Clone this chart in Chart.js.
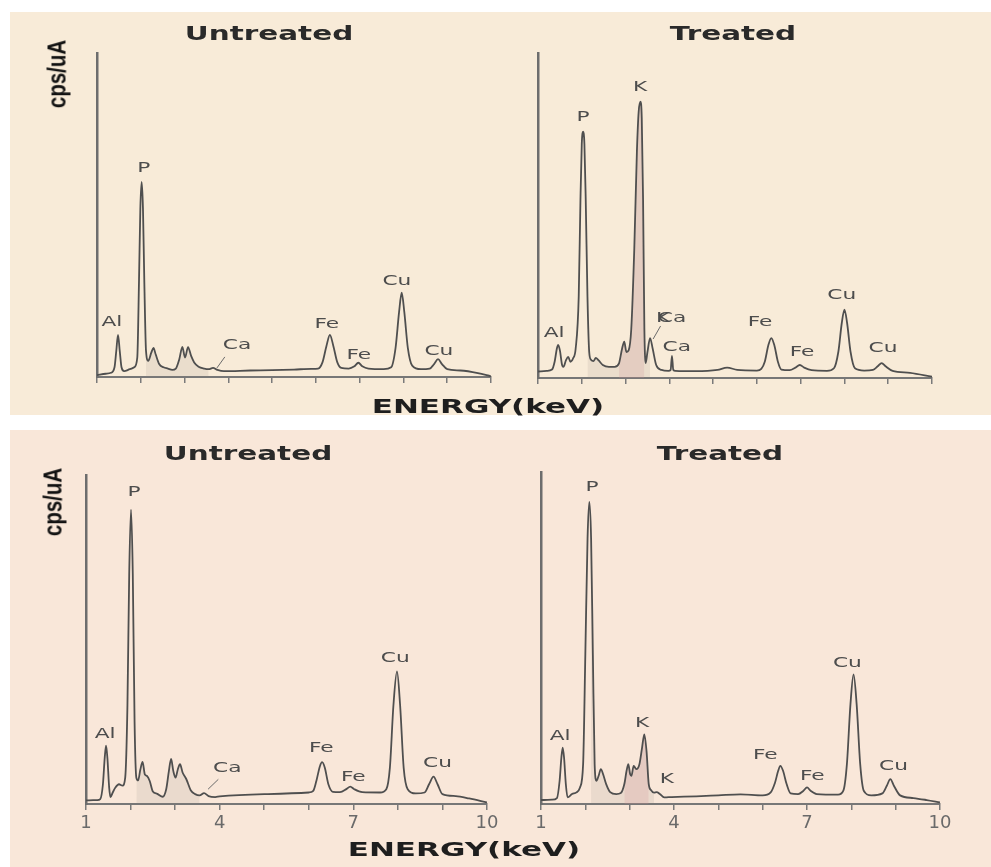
<!DOCTYPE html>
<html>
<head>
<meta charset="utf-8">
<title>EDS spectra – untreated vs treated</title>
<script src="https://cdn.jsdelivr.net/npm/chart.js@4.4.1/dist/chart.umd.min.js"></script>
<style>
  html, body { margin: 0; padding: 0; background: #ffffff; }
  body { width: 991px; height: 867px; position: relative; overflow: hidden; font-family: "DejaVu Sans", sans-serif; }
  .band { position: absolute; }
  canvas { position: absolute; }
  .t { position: absolute; white-space: nowrap; line-height: 1; font-weight: bold; color: #2a2a2a;
       transform: translate(-50%, -50%) scaleX(1.55); }
  .cps { position: absolute; white-space: nowrap; line-height: 1; font-family: "Liberation Sans", Arial, sans-serif;
         font-weight: bold; font-size: 25px; color: #111;
         transform: translate(-50%, -50%) rotate(-90deg) scaleX(0.82); }
</style>
</head>
<body>
<div class="band" style="left:10px;top:12px;width:981px;height:403px;background:#f8ebd8;"></div>
<div class="band" style="left:10px;top:430px;width:981px;height:437px;background:#f9e7d9;"></div>

<canvas id="c1"></canvas>
<canvas id="c2"></canvas>
<canvas id="c3"></canvas>
<canvas id="c4"></canvas>

<div class="t" style="left:269px;top:33px;font-size:19px;">Untreated</div>
<div class="t" style="left:733px;top:33px;font-size:19px;">Treated</div>
<div class="t" style="left:248px;top:453px;font-size:19px;">Untreated</div>
<div class="t" style="left:720px;top:453px;font-size:19px;">Treated</div>
<div class="t" style="left:488px;top:406px;font-size:20px;color:#1e1e1e;">ENERGY(keV)</div>
<div class="t" style="left:464px;top:849px;font-size:20px;color:#1e1e1e;">ENERGY(keV)</div>
<div class="cps" style="left:57px;top:74px;">cps/uA</div>
<div class="cps" style="left:53px;top:502px;">cps/uA</div>

<script>
// ---- Spectrum 1: untreated (upper pair) ----
const ENERGY_UNTREATED_1 = [1.00,1.20,1.32,1.40,1.44,1.48,1.52,1.56,1.62,1.75,1.85,1.92,1.96,1.99,2.02,2.05,2.08,2.12,2.17,2.24,2.29,2.34,2.42,2.52,2.62,2.72,2.80,2.88,2.95,3.01,3.08,3.15,3.22,3.32,3.45,3.55,3.65,3.75,3.90,4.50,5.00,5.50,5.90,6.05,6.15,6.24,6.32,6.40,6.49,6.58,6.75,6.88,6.97,7.06,7.20,7.55,7.72,7.82,7.90,7.96,8.02,8.10,8.20,8.40,8.60,8.70,8.79,8.88,9.00,9.30,9.70,10.00];
const CPS_UNTREATED_1    = [0.6,1.0,1.3,3.0,8.0,13.0,8.0,3.0,1.8,2.4,3.0,6.0,30,52,60.2,52,30,8,5,7.5,9.0,7,4,3,2.6,2.2,2.6,5.5,9.3,6.0,9.2,6.5,4.5,3.2,2.6,2.4,2.8,2.2,1.8,2.0,2.1,2.3,2.5,2.6,4.5,9.5,13.0,9.5,4.5,2.8,2.6,3.3,4.4,3.3,2.6,2.4,3.0,9.0,20.0,26.0,20.0,9.0,3.5,2.4,2.6,4.0,5.5,4.0,2.4,2.0,1.2,0.2];

// ---- Spectrum 2: treated (upper pair) ----
const ENERGY_TREATED_1 = [1.00,1.20,1.32,1.38,1.43,1.46,1.50,1.55,1.58,1.64,1.69,1.74,1.80,1.86,1.93,1.97,2.00,2.03,2.06,2.09,2.13,2.17,2.21,2.27,2.32,2.38,2.48,2.62,2.75,2.85,2.92,2.97,3.02,3.07,3.13,3.20,3.26,3.30,3.34,3.37,3.40,3.43,3.46,3.50,3.56,3.62,3.70,3.82,3.98,4.03,4.06,4.09,4.14,4.60,5.10,5.32,5.55,6.00,6.10,6.18,6.26,6.33,6.40,6.48,6.56,6.75,6.88,6.98,7.08,7.25,7.60,7.76,7.86,7.94,8.00,8.06,8.14,8.24,8.45,8.65,8.76,8.85,8.94,9.10,9.50,10.00];
const CPS_TREATED_1    = [2.0,2.2,2.6,5,9,10.2,8.5,4,3.4,5.5,6.5,5.0,6.0,9,25,55,72,75.8,72,55,25,8,5.6,5.2,6.2,5.5,4.0,3.4,3.4,4.5,9,11.2,8.0,8.5,15,40,70,82,85,80,55,15,4.6,8,12.3,9,4,2.5,2.2,2.5,6.8,2.5,2.2,2.1,2.5,3.2,2.5,2.3,2.8,5,10,12.3,10,5,2.6,2.4,3.2,4.0,3.2,2.4,2.2,3,8,17,21,17,8,3,2.3,2.5,3.6,4.6,3.6,2.2,1.6,0.4];

// ---- Spectrum 3: untreated (lower pair) ----
const ENERGY_UNTREATED_2 = [1.00,1.25,1.32,1.38,1.42,1.45,1.48,1.52,1.55,1.60,1.66,1.74,1.82,1.88,1.93,1.97,2.01,2.05,2.09,2.13,2.17,2.22,2.27,2.32,2.37,2.43,2.50,2.60,2.72,2.80,2.86,2.91,2.96,3.01,3.06,3.11,3.17,3.25,3.35,3.45,3.55,3.65,3.75,3.90,4.00,5.00,6.00,6.10,6.17,6.25,6.30,6.36,6.44,6.54,6.70,6.85,6.93,7.02,7.20,7.60,7.74,7.82,7.90,7.98,8.05,8.13,8.22,8.40,8.60,8.70,8.80,8.89,9.00,9.30,9.60,10.00];
const CPS_UNTREATED_2    = [1.1,1.2,1.5,6,14,17.7,14,5,2.1,3.5,5.0,6.0,5.6,8,30,70,89.5,70,25,8,7.2,10.5,12.8,9,8.5,7,3.8,3.1,2.2,4.5,10,13.7,10,8.0,10.5,12.1,9.5,7.6,4.2,3.0,2.6,3.3,2.4,2.1,2.3,3.0,3.5,4,7,11.5,12.7,11,6,3.7,3.6,4.6,5.3,4.5,3.6,3.5,4.5,11,30,40.3,30,11,4.5,3.2,3.5,6,8.3,6,3.0,2.4,1.7,0.5];

// ---- Spectrum 4: treated (lower pair) ----
const ENERGY_TREATED_2 = [1.00,1.25,1.36,1.42,1.46,1.49,1.52,1.56,1.60,1.70,1.80,1.88,1.95,2.00,2.05,2.09,2.13,2.17,2.21,2.25,2.30,2.35,2.40,2.47,2.56,2.70,2.80,2.88,2.93,2.97,3.01,3.04,3.09,3.15,3.22,3.28,3.33,3.38,3.43,3.48,3.55,3.61,3.68,3.78,3.95,4.50,5.00,5.50,6.00,6.18,6.28,6.35,6.40,6.46,6.54,6.63,6.80,6.92,7.00,7.08,7.22,7.70,7.82,7.90,7.98,8.05,8.12,8.20,8.28,8.45,8.70,8.80,8.88,8.96,9.10,9.40,9.70,10.00];
const CPS_TREATED_2    = [1.2,1.3,1.8,7,14,17,14,6,2.0,3.0,3.5,5,12,45,80,91,80,45,12,7,8.5,10.5,9,6,3.6,3.0,3.3,6,10,12,9,8.5,11.5,10.5,12,17,21,16,6,4.2,3.4,3.6,3.0,2.0,2.1,2.3,2.6,2.9,2.6,3.5,6.5,10,11.5,10,6,3.2,3.0,4.0,5.0,4.0,3.0,2.8,4,12,30,39,30,12,4,2.6,3.2,5.5,7.5,5.5,2.6,1.8,1.2,0.5];

// ---- Axis ticks (keV) ----
const X_TICK_LABELS = [1, 4, 7, 10];

// ---- Element labels: name, energy (keV), height (cps/uA) of the label anchor ----
const PEAKS_UNTREATED_1 = [
  ['Al', 1.34, 17.0], ['P', 2.07, 64.5], ['Ca', 4.20, 9.9], ['Fe', 6.25, 16.4],
  ['Fe', 6.98, 6.8], ['Cu', 7.85, 29.6], ['Cu', 8.81, 8.0]
];
const PEAKS_TREATED_1 = [
  ['Al', 1.37, 13.8], ['P', 2.03, 80.3], ['K', 3.33, 89.5], ['K', 3.86, 18.5], ['Ca', 4.06, 18.5],
  ['Ca', 4.17, 9.5], ['Fe', 6.07, 17.2], ['Fe', 7.03, 8.0], ['Cu', 7.94, 25.5], ['Cu', 8.88, 9.2]
];
const PEAKS_UNTREATED_2 = [
  ['Al', 1.43, 21.1], ['P', 2.08, 94.6], ['Ca', 4.17, 10.8], ['Fe', 6.28, 16.9],
  ['Fe', 7.00, 8.1], ['Cu', 7.94, 44.3], ['Cu', 8.89, 12.3]
];
const PEAKS_TREATED_2 = [
  ['Al', 1.43, 20.3], ['P', 2.15, 95.5], ['K', 3.28, 24.2], ['K', 3.84, 7.5],
  ['Fe', 6.06, 14.6], ['Fe', 7.12, 8.4], ['Cu', 7.91, 42.4], ['Cu', 8.95, 11.3]
];

// leader lines from a label down to its peak: [keV, cps] -> [keV, cps]
const LEADERS_UNTREATED_1 = [[[3.92, 6.2], [3.74, 2.8]]];
const LEADERS_TREATED_1   = [[[3.80, 16.0], [3.63, 12.0]]];
const LEADERS_UNTREATED_2 = [[[3.97, 7.5], [3.74, 4.5]]];
const LEADERS_TREATED_2   = [];

// ---- drawing ----
const peakLabelPlugin = {
  id: 'peakLabels',
  afterDatasetsDraw(chart, args, opts) {
    const ctx = chart.ctx, xs = chart.scales.x, ys = chart.scales.y;
    ctx.save();
    ctx.strokeStyle = '#6a6a6a';
    ctx.lineWidth = 1;
    (opts.leaders || []).forEach(([a, b]) => {
      ctx.beginPath();
      ctx.moveTo(xs.getPixelForValue(a[0]), ys.getPixelForValue(a[1]));
      ctx.lineTo(xs.getPixelForValue(b[0]), ys.getPixelForValue(b[1]));
      ctx.stroke();
    });
    ctx.font = '14px "DejaVu Sans", sans-serif';
    ctx.fillStyle = '#4d4d4d';
    ctx.textAlign = 'center';
    ctx.textBaseline = 'middle';
    (opts.items || []).forEach(([name, e, v]) => {
      ctx.save();
      ctx.translate(xs.getPixelForValue(e), ys.getPixelForValue(v));
      ctx.scale(1.55, 1);
      ctx.fillText(name, 0, 0);
      ctx.restore();
    });
    ctx.restore();
  }
};

function points(energy, cps, lo, hi) {
  const out = [];
  energy.forEach((e, i) => { if (e >= lo && e <= hi) out.push({ x: e, y: cps[i] }); });
  return out;
}

const PANELS = [
  { id: 'c1', energy: ENERGY_UNTREATED_1, cps: CPS_UNTREATED_1, peaks: PEAKS_UNTREATED_1, leaders: LEADERS_UNTREATED_1,
    treated: false, showTickLabels: false,
    box: { left: 0, top: 0, width: 495, height: 415 }, pad: { left: 97, top: 53, right: 4, bottom: 32 } },
  { id: 'c2', energy: ENERGY_TREATED_1, cps: CPS_TREATED_1, peaks: PEAKS_TREATED_1, leaders: LEADERS_TREATED_1,
    treated: true, showTickLabels: false,
    box: { left: 495, top: 0, width: 496, height: 415 }, pad: { left: 43, top: 53, right: 59, bottom: 31 } },
  { id: 'c3', energy: ENERGY_UNTREATED_2, cps: CPS_UNTREATED_2, peaks: PEAKS_UNTREATED_2, leaders: LEADERS_UNTREATED_2,
    treated: false, showTickLabels: true,
    box: { left: 0, top: 430, width: 510, height: 437 }, pad: { left: 86, top: 45, right: 23, bottom: 29.4 } },
  { id: 'c4', energy: ENERGY_TREATED_2, cps: CPS_TREATED_2, peaks: PEAKS_TREATED_2, leaders: LEADERS_TREATED_2,
    treated: true, showTickLabels: true,
    box: { left: 495, top: 430, width: 496, height: 437 }, pad: { left: 46, top: 42, right: 51, bottom: 29.4 } }
];

PANELS.forEach(p => {
  const cv = document.getElementById(p.id);
  cv.width = p.box.width; cv.height = p.box.height;
  cv.style.left = p.box.left + 'px'; cv.style.top = p.box.top + 'px';
  cv.style.width = p.box.width + 'px'; cv.style.height = p.box.height + 'px';

  const datasets = [
    { data: points(p.energy, p.cps, 0, 99), borderColor: '#4f4f4f', borderWidth: 1.8,
      pointRadius: 0, cubicInterpolationMode: 'monotone', fill: false },
    { data: points(p.energy, p.cps, 2.1, 3.6), borderWidth: 0, pointRadius: 0,
      cubicInterpolationMode: 'monotone', fill: 'origin', backgroundColor: 'rgba(140,128,120,0.13)' }
  ];
  if (p.treated) {
    datasets.push({ data: points(p.energy, p.cps, 2.85, 3.45), borderWidth: 0, pointRadius: 0,
      cubicInterpolationMode: 'monotone', fill: 'origin', backgroundColor: 'rgba(215,140,150,0.20)' });
  }

  new Chart(cv, {
    type: 'line',
    data: { datasets },
    options: {
      responsive: false, animation: false, devicePixelRatio: 1,
      layout: { padding: p.pad },
      plugins: {
        legend: { display: false }, tooltip: { enabled: false }, title: { display: false },
        peakLabels: { items: p.peaks, leaders: p.leaders }
      },
      scales: {
        x: {
          type: 'linear', min: 1, max: 10,
          ticks: {
            display: p.showTickLabels, stepSize: 1, autoSkip: false, maxRotation: 0, padding: 3,
            color: '#6a6a6a', font: { family: '"DejaVu Sans", sans-serif', size: 18 },
            callback: v => (X_TICK_LABELS.includes(v) ? String(v) : '')
          },
          grid: { display: true, drawOnChartArea: false, drawTicks: true, tickLength: 6, color: '#7a7a7a', lineWidth: 1.5 },
          border: { display: true, color: '#777777', width: 2 }
        },
        y: {
          min: 0, max: 100,
          ticks: { display: false },
          grid: { display: false, drawTicks: false },
          border: { display: true, color: '#6d6d6d', width: 2.5 }
        }
      }
    },
    plugins: [peakLabelPlugin]
  });
});
</script>
</body>
</html>
